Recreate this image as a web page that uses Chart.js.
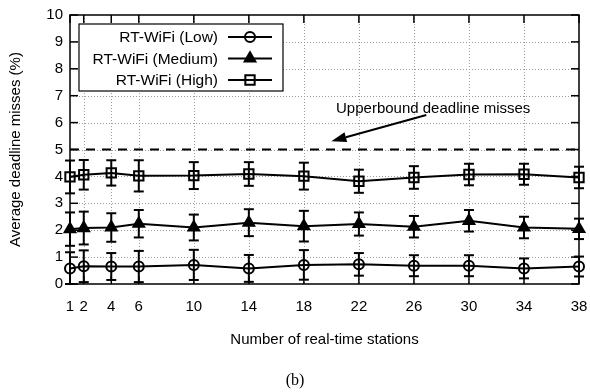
<!DOCTYPE html>
<html>
<head>
<meta charset="utf-8">
<script src="https://cdn.jsdelivr.net/npm/chart.js@4/dist/chart.umd.min.js"></script>
<style>
  html, body { margin: 0; padding: 0; background: #fff; }
  canvas { display: block; }
</style>
</head>
<body>
<canvas id="c" width="590" height="392"></canvas>
<script>
// Number of real-time stations on the x axis
const stations = [1, 2, 4, 6, 10, 14, 18, 22, 26, 30, 34, 38];
const xTicks = [1, 2, 4, 6, 10, 14, 18, 22, 26, 30, 34, 38];
const yTicks = [0, 1, 2, 3, 4, 5, 6, 7, 8, 9, 10];

// Average deadline misses (%) and half-width of the error bars
const lowMisses  = [0.58, 0.66, 0.65, 0.65, 0.71, 0.58, 0.71, 0.73, 0.68, 0.68, 0.58, 0.65];
const lowErr     = [0.60, 0.59, 0.50, 0.58, 0.56, 0.50, 0.55, 0.42, 0.39, 0.39, 0.37, 0.37];
const medMisses  = [2.04, 2.08, 2.10, 2.24, 2.10, 2.28, 2.15, 2.23, 2.13, 2.35, 2.10, 2.05];
const medErr     = [0.62, 0.61, 0.53, 0.51, 0.48, 0.50, 0.57, 0.43, 0.40, 0.40, 0.40, 0.38];
const highMisses = [3.98, 4.06, 4.13, 4.02, 4.03, 4.09, 4.01, 3.82, 3.96, 4.07, 4.08, 3.96];
const highErr    = [0.61, 0.55, 0.47, 0.58, 0.50, 0.44, 0.50, 0.43, 0.42, 0.40, 0.39, 0.40];

const seriesNames = ['RT-WiFi (Low)', 'RT-WiFi (Medium)', 'RT-WiFi (High)'];
const upperBound = 5;

// Annotation text with its arrow (in data units)
const noteText = 'Upperbound deadline misses';
const noteAt = { x: 27.4, y: 6.5 };
const arrowFrom = { x: 26.9, y: 6.28 };
const arrowTo = { x: 20.0, y: 5.31 };

const SANS = "'Liberation Sans', Arial, Helvetica, sans-serif";
const xMin = 1, xMax = 38, yMin = 0, yMax = 10;

const toPoints = vals => stations.map((s, i) => ({ x: s, y: vals[i] }));
const errors = [lowErr, medErr, highErr];

const markerStyles = [
  { pointStyle: 'circle', pointRadius: 5, fill: false },
  { pointStyle: 'triangle', pointRadius: 6.2, fill: true },
  { pointStyle: 'rect', pointRadius: 6.6, fill: false }
];

function seriesDataset(label, vals, m) {
  return {
    label,
    data: toPoints(vals),
    borderColor: '#000',
    borderWidth: 2,
    pointStyle: m.pointStyle,
    pointRadius: m.pointRadius,
    pointBorderWidth: 2,
    pointBorderColor: '#000',
    pointBackgroundColor: m.fill ? '#000' : 'rgba(0,0,0,0)',
    tension: 0,
    clip: false
  };
}

const datasets = [
  seriesDataset(seriesNames[0], lowMisses, markerStyles[0]),
  seriesDataset(seriesNames[1], medMisses, markerStyles[1]),
  seriesDataset(seriesNames[2], highMisses, markerStyles[2]),
  {
    label: 'upper bound',
    data: [{ x: xMin, y: upperBound }, { x: xMax, y: upperBound }],
    borderColor: '#000',
    borderWidth: 2,
    borderDash: [9, 7],
    pointRadius: 0,
    clip: false
  }
];

function strokeLine(ctx, x1, y1, x2, y2) {
  ctx.beginPath();
  ctx.moveTo(x1, y1);
  ctx.lineTo(x2, y2);
  ctx.stroke();
}

// drawPoint fills and strokes the path itself
function drawMarker(ctx, m, x, y) {
  ctx.fillStyle = m.fill ? '#000' : 'rgba(0,0,0,0)';
  ctx.strokeStyle = '#000';
  ctx.lineWidth = 2;
  Chart.helpers.drawPoint(ctx, { pointStyle: m.pointStyle, radius: m.pointRadius, rotation: 0, borderWidth: 2 }, x, y);
}

const figurePlugin = {
  id: 'figure',
  beforeDatasetsDraw(chart) {
    const { ctx, chartArea: a, scales: { x, y } } = chart;
    ctx.save();
    // dotted grid
    ctx.strokeStyle = '#9c9c9c';
    ctx.lineWidth = 1;
    ctx.setLineDash([1, 2]);
    xTicks.forEach(v => {
      if (v === xMin || v === xMax) return;
      const px = Math.round(x.getPixelForValue(v)) + 0.5;
      strokeLine(ctx, px, a.top, px, a.bottom);
    });
    yTicks.forEach(v => {
      if (v === yMin || v === yMax) return;
      const py = Math.round(y.getPixelForValue(v)) + 0.5;
      strokeLine(ctx, a.left, py, a.right, py);
    });
    ctx.setLineDash([]);
    // inward tick marks on all four sides
    ctx.strokeStyle = '#000';
    ctx.lineWidth = 1.5;
    const tl = 8;
    xTicks.forEach(v => {
      const px = x.getPixelForValue(v);
      strokeLine(ctx, px, a.bottom, px, a.bottom - tl);
      strokeLine(ctx, px, a.top, px, a.top + tl);
    });
    yTicks.forEach(v => {
      const py = y.getPixelForValue(v);
      strokeLine(ctx, a.left, py, a.left + tl, py);
      strokeLine(ctx, a.right, py, a.right - tl, py);
    });
    // frame
    ctx.strokeRect(a.left, a.top, a.right - a.left, a.bottom - a.top);
    ctx.restore();
  },
  afterDatasetsDraw(chart) {
    const { ctx, chartArea: a, scales: { x, y } } = chart;
    ctx.save();
    // error bars
    ctx.strokeStyle = '#000';
    ctx.lineWidth = 2;
    const cap = 5;
    [lowMisses, medMisses, highMisses].forEach((vals, k) => {
      vals.forEach((v, i) => {
        const px = x.getPixelForValue(stations[i]);
        const lo = y.getPixelForValue(Math.max(yMin, v - errors[k][i]));
        const hi = y.getPixelForValue(v + errors[k][i]);
        strokeLine(ctx, px, lo, px, hi);
        strokeLine(ctx, px - cap, lo, px + cap, lo);
        strokeLine(ctx, px - cap, hi, px + cap, hi);
      });
    });

    // annotation with arrow
    ctx.fillStyle = '#000';
    ctx.font = '15px ' + SANS;
    ctx.textAlign = 'center';
    ctx.textBaseline = 'middle';
    ctx.fillText(noteText, x.getPixelForValue(noteAt.x), y.getPixelForValue(noteAt.y));
    const x1 = x.getPixelForValue(arrowFrom.x), y1 = y.getPixelForValue(arrowFrom.y);
    const x2 = x.getPixelForValue(arrowTo.x), y2 = y.getPixelForValue(arrowTo.y);
    const ang = Math.atan2(y2 - y1, x2 - x1);
    const headLen = 15, headW = 5;
    const bx = x2 - headLen * Math.cos(ang), by = y2 - headLen * Math.sin(ang);
    ctx.lineWidth = 2;
    strokeLine(ctx, x1, y1, bx, by);
    ctx.beginPath();
    ctx.moveTo(x2, y2);
    ctx.lineTo(bx + headW * Math.sin(ang), by - headW * Math.cos(ang));
    ctx.lineTo(bx - headW * Math.sin(ang), by + headW * Math.cos(ang));
    ctx.closePath();
    ctx.fill();

    // legend box
    const bx0 = a.left + 9, by0 = a.top + 9, bw = 204, bh = 67;
    ctx.fillStyle = '#fff';
    ctx.fillRect(bx0, by0, bw, bh);
    ctx.strokeStyle = '#000';
    ctx.lineWidth = 1.2;
    ctx.strokeRect(bx0, by0, bw, bh);
    ctx.font = '15.5px ' + SANS;
    ctx.textAlign = 'right';
    ctx.textBaseline = 'middle';
    seriesNames.forEach((name, i) => {
      const ry = by0 + 13 + i * 21.5;
      ctx.fillStyle = '#000';
      ctx.fillText(name, bx0 + 139, ry + 1);
      ctx.strokeStyle = '#000';
      ctx.lineWidth = 2;
      strokeLine(ctx, bx0 + 149, ry, bx0 + 193, ry);
      drawMarker(ctx, markerStyles[i], bx0 + 171, ry);
    });
    ctx.restore();
  },
  afterDraw(chart) {
    const { ctx } = chart;
    ctx.save();
    ctx.fillStyle = '#000';
    ctx.font = "16px 'Liberation Serif', 'Times New Roman', serif";
    ctx.textAlign = 'center';
    ctx.textBaseline = 'middle';
    ctx.fillText('(b)', chart.width / 2, 381);
    ctx.restore();
  }
};

new Chart(document.getElementById('c'), {
  type: 'line',
  data: { datasets },
  options: {
    responsive: false,
    animation: false,
    devicePixelRatio: 1,
    layout: { padding: { top: 15, right: 11, left: 0, bottom: 0 } },
    plugins: { legend: { display: false }, tooltip: { enabled: false } },
    scales: {
      x: {
        type: 'linear',
        min: xMin,
        max: xMax,
        grid: { display: false, drawTicks: false },
        border: { display: false },
        afterBuildTicks: s => { s.ticks = xTicks.map(v => ({ value: v })); },
        afterFit: s => { s.height = 108; s.paddingLeft = 0; s.paddingRight = 0; },
        ticks: {
          autoSkip: false,
          maxRotation: 0,
          padding: 14,
          color: '#000',
          font: { family: SANS, size: 15 },
          callback: v => String(v)
        },
        title: {
          display: true,
          text: 'Number of real-time stations',
          color: '#000',
          font: { family: SANS, size: 15 },
          padding: { top: 0, bottom: 43 }
        }
      },
      y: {
        type: 'linear',
        min: yMin,
        max: yMax,
        grid: { display: false, drawTicks: false },
        border: { display: false },
        afterBuildTicks: s => { s.ticks = yTicks.map(v => ({ value: v })); },
        afterFit: s => { s.width = 70; s.paddingTop = 0; s.paddingBottom = 0; },
        ticks: {
          padding: 7,
          color: '#000',
          font: { family: SANS, size: 15 },
          callback: v => String(v)
        },
        title: {
          display: true,
          text: 'Average deadline misses (%)',
          color: '#000',
          font: { family: SANS, size: 15 },
          padding: { top: 7, bottom: 0 }
        }
      }
    }
  },
  plugins: [figurePlugin]
});
</script>
</body>
</html>
